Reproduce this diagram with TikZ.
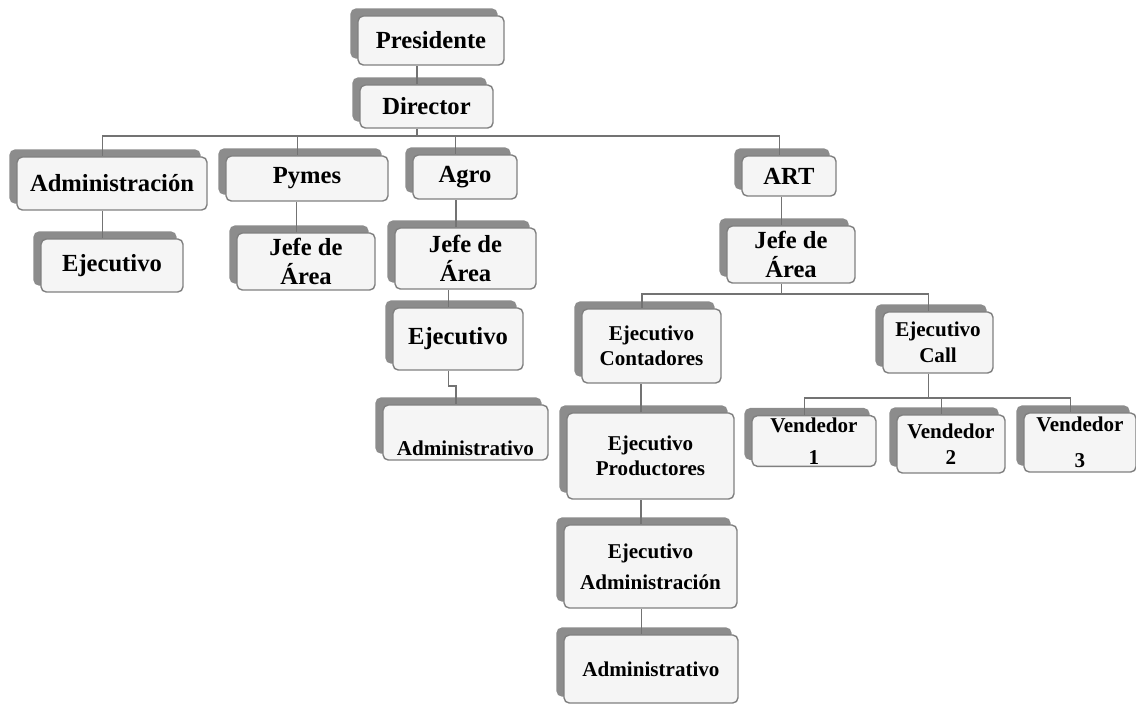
\documentclass[tikz,border=0pt]{standalone}
\usepackage{fontspec}
\setmainfont{Liberation Serif}
\usetikzlibrary{shadows}

\tikzset{
  orgbox/.style={draw=black!50,line width=0.8pt,fill=black!4,rounded corners=3pt,
    align=center,inner sep=1pt,font=\bfseries\fontsize{14}{16}\selectfont,
    copy shadow={shadow xshift=-0.14cm,shadow yshift=0.14cm,fill=black!45,draw=black!45}},
  subbox/.style={orgbox,font=\bfseries\fontsize{12}{14.5}\selectfont},
  link/.style={draw=black!55,line width=1pt},
}

\begin{document}
\begin{tikzpicture}[x=0.02cm,y=-0.02cm]
  \useasboundingbox (0,0) rectangle (1136,704);

  % top
  \node[orgbox,minimum width=2.92cm,minimum height=0.98cm] (pres) at (431,40.5) {Presidente};
  \node[orgbox,minimum width=2.66cm,minimum height=0.86cm] (dir) at (426.5,106.5) {Director};

  % areas
  \node[orgbox,minimum width=3.80cm,minimum height=1.06cm] (adm) at (112,183.5) {Administración};
  \node[orgbox,minimum width=3.24cm,minimum height=0.90cm] (pym) at (307,178.5) {Pymes};
  \node[orgbox,minimum width=2.08cm,minimum height=0.88cm] (agr) at (465,177) {Agro};
  \node[orgbox,minimum width=1.88cm,minimum height=0.80cm] (art) at (789,176) {ART};

  % Administracion / Pymes
  \node[orgbox,minimum width=2.84cm,minimum height=1.06cm] (ejeA) at (112,265.5) {Ejecutivo};
  \node[orgbox,minimum width=2.76cm,minimum height=1.14cm] (jefP) at (306,261.5) {Jefe de\\Área};

  % Agro
  \node[orgbox,minimum width=2.82cm,minimum height=1.22cm] (jefA) at (465.5,258.5) {Jefe de\\Área};
  \node[orgbox,minimum width=2.60cm,minimum height=1.24cm] (ejeG) at (458,339) {Ejecutivo};
  \node[subbox,minimum width=3.30cm,inner ysep=0pt,text height=1.0cm,text depth=0.1cm] (admG) at (465.5,432.5) {Administrativo};

  % ART
  \node[orgbox,minimum width=2.56cm,minimum height=1.14cm] (jefR) at (791,254.5) {Jefe de\\Área};
  \node[subbox,minimum width=2.78cm,minimum height=1.48cm] (ejC) at (651.5,346) {Ejecutivo\\Contadores};
  \node[subbox,minimum width=3.34cm,minimum height=1.72cm] (ejP) at (650.5,456) {Ejecutivo\\Productores};
  \node[subbox,minimum width=3.46cm,minimum height=1.66cm] (ejAd) at (650.5,566.5) {Ejecutivo\\[3pt]Administración};
  \node[subbox,minimum width=3.48cm,minimum height=1.36cm] (admR) at (651,669) {Administrativo};
  \node[subbox,minimum width=2.20cm,minimum height=1.22cm] (call) at (938,342.5) {Ejecutivo\\Call};
  \node[subbox,minimum width=2.48cm,minimum height=0.96cm] (v1) at (814,441) {Vendedor\\[4pt]1};
  \node[subbox,minimum width=2.16cm,minimum height=1.16cm] (v2) at (951,444) {Vendedor\\2};
  \node[subbox,minimum width=2.24cm,minimum height=1.18cm] (v3) at (1080,442.5) {Vendedor\\[6pt]3};

  % connectors
  \draw[link] ([xshift=-.19cm]dir.north) -- ([xshift=-.19cm]dir.north |- pres.south);
  \draw[link] ([xshift=-.19cm]dir.south) -- ++(0,7) coordinate (busD);
  \draw[link] (busD) -| ([xshift=-.19cm]adm.north);
  \draw[link] (busD) -| ([xshift=-.19cm]pym.north);
  \draw[link] (busD) -| ([xshift=-.19cm]agr.north);
  \draw[link] (busD) -| ([xshift=-.19cm]art.north);

  \draw[link] ([xshift=-.19cm]ejeA.north) -- ([xshift=-.19cm]ejeA.north |- adm.south);
  \draw[link] ([xshift=-.19cm]jefP.north) -- ([xshift=-.19cm]jefP.north |- pym.south);
  \draw[link] ([xshift=-.19cm]jefA.north) -- ([xshift=-.19cm]jefA.north |- agr.south);
  \draw[link] ([xshift=-.19cm]ejeG.north) -- ([xshift=-.19cm]ejeG.north |- jefA.south);
  \draw[link] ([xshift=-.19cm]ejeG.south) -- ++(0,15) -| ([xshift=-.19cm]admG.north);

  \draw[link] ([xshift=-.19cm]jefR.north) -- ([xshift=-.19cm]jefR.north |- art.south);
  \draw[link] ([xshift=-.19cm]jefR.south) -- ++(0,10) coordinate (busR);
  \draw[link] (busR) -| ([xshift=-.19cm]ejC.north);
  \draw[link] (busR) -| ([xshift=-.19cm]call.north);
  \draw[link] ([xshift=-.19cm]ejP.north) -- ([xshift=-.19cm]ejP.north |- ejC.south);
  \draw[link] ([xshift=-.19cm]ejAd.north) -- ([xshift=-.19cm]ejAd.north |- ejP.south);
  \draw[link] ([xshift=-.19cm]admR.north) -- ([xshift=-.19cm]admR.north |- ejAd.south);

  \draw[link] ([xshift=-.19cm]call.south) -- ++(0,24) coordinate (busC);
  \draw[link] (busC) -| ([xshift=-.19cm]v1.north);
  \draw[link] (busC) -| ([xshift=-.19cm]v2.north);
  \draw[link] (busC) -| ([xshift=-.19cm]v3.north);
\end{tikzpicture}
\end{document}
